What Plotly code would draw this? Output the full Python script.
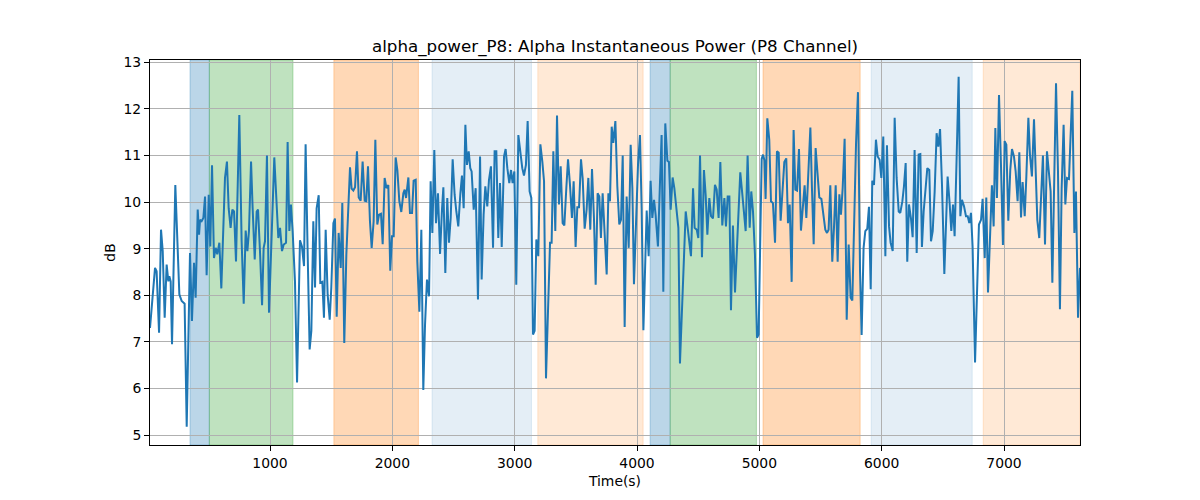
import plotly.graph_objects as go

# ---------------- data ----------------
times = [19, 60, 73, 93, 109, 123, 139, 155, 169, 177, 188, 199, 226, 242, 259, 278, 302, 319, 346, 362,
         379, 392, 409, 420, 428, 441, 455, 469, 482, 499, 512, 526, 542, 556, 569, 586, 602, 632, 648, 662,
         678, 692, 706, 722, 749, 768, 785, 801, 815, 828, 845, 858, 875, 891, 902, 918, 935, 948, 959, 975,
         992, 1035, 1068, 1082, 1098, 1112, 1131, 1144, 1158, 1171, 1185, 1204, 1221, 1245, 1261, 1278, 1291, 1308, 1324, 1338,
         1354, 1368, 1381, 1398, 1411, 1428, 1441, 1455, 1471, 1488, 1501, 1518, 1531, 1545, 1561, 1578, 1591, 1607, 1624, 1654,
         1667, 1681, 1695, 1711, 1725, 1741, 1757, 1774, 1787, 1801, 1817, 1831, 1847, 1861, 1877, 1891, 1907, 1921, 1937, 1952,
         1967, 1983, 1997, 2011, 2027, 2041, 2057, 2073, 2090, 2101, 2112, 2131, 2144, 2161, 2174, 2191, 2204, 2221, 2237, 2253,
         2267, 2283, 2300, 2313, 2327, 2343, 2357, 2373, 2390, 2406, 2417, 2433, 2449, 2463, 2477, 2493, 2509, 2523, 2539, 2556,
         2569, 2583, 2597, 2610, 2624, 2637, 2648, 2665, 2681, 2700, 2717, 2730, 2746, 2760, 2776, 2790, 2806, 2823, 2836, 2850,
         2866, 2880, 2894, 2913, 2926, 2940, 2956, 2970, 2983, 2997, 3013, 3030, 3046, 3062, 3076, 3092, 3106, 3122, 3136, 3150,
         3163, 3177, 3193, 3210, 3226, 3240, 3256, 3275, 3289, 3302, 3316, 3332, 3346, 3362, 3376, 3392, 3406, 3422, 3436, 3452,
         3468, 3482, 3498, 3512, 3526, 3542, 3556, 3572, 3588, 3602, 3618, 3632, 3648, 3662, 3678, 3692, 3705, 3719, 3736, 3752,
         3766, 3779, 3793, 3806, 3823, 3839, 3855, 3869, 3883, 3899, 3915, 3932, 3948, 3962, 3975, 3992, 4008, 4024, 4038, 4052,
         4065, 4079, 4095, 4111, 4125, 4139, 4152, 4171, 4188, 4201, 4215, 4231, 4248, 4261, 4275, 4291, 4305, 4338, 4351, 4368,
         4398, 4414, 4428, 4441, 4458, 4471, 4488, 4501, 4515, 4531, 4547, 4561, 4575, 4591, 4605, 4621, 4637, 4651, 4667, 4681,
         4697, 4714, 4727, 4741, 4755, 4768, 4784, 4801, 4817, 4844, 4861, 4874, 4888, 4904, 4921, 4934, 4948, 4964, 4981, 4994,
         5019, 5030, 5041, 5051, 5065, 5081, 5095, 5111, 5128, 5144, 5158, 5174, 5190, 5204, 5220, 5234, 5248, 5264, 5280, 5294,
         5308, 5324, 5340, 5357, 5370, 5384, 5400, 5417, 5430, 5444, 5460, 5477, 5490, 5507, 5523, 5539, 5553, 5566, 5580, 5596,
         5610, 5624, 5640, 5654, 5667, 5681, 5697, 5714, 5730, 5746, 5760, 5776, 5790, 5806, 5823, 5836, 5852, 5866, 5882, 5896,
         5910, 5923, 5937, 5953, 5967, 5983, 5997, 6013, 6030, 6043, 6060, 6073, 6090, 6106, 6122, 6139, 6152, 6169, 6182, 6196,
         6209, 6223, 6239, 6253, 6269, 6286, 6302, 6316, 6329, 6343, 6359, 6373, 6389, 6403, 6417, 6433, 6449, 6463, 6477, 6493,
         6512, 6526, 6539, 6556, 6569, 6583, 6596, 6613, 6629, 6643, 6656, 6673, 6689, 6703, 6716, 6730, 6743, 6763, 6779, 6795,
         6812, 6825, 6842, 6855, 6869, 6885, 6901, 6915, 6929, 6942, 6959, 6975, 6991, 7005, 7019, 7035, 7051, 7065, 7081, 7095,
         7111, 7125, 7139, 7152, 7169, 7182, 7199, 7212, 7228, 7245, 7258, 7272, 7288, 7302, 7318, 7335, 7351, 7365, 7381, 7395,
         7411, 7425, 7441, 7457, 7471, 7487, 7501, 7515, 7531, 7545, 7558, 7575, 7588, 7605, 7621]

power_db = [7.3, 8.59, 8.52, 7.2, 9.41, 8.95, 7.52, 8.66, 8.3, 8.41, 8.3, 6.95, 10.37, 9.16, 8.02, 7.88, 7.82, 5.18, 8.91, 7.45,
            8.70, 7.95, 9.84, 9.30, 9.62, 9.59, 9.66, 10.12, 8.43, 10.16, 9.05, 10.79, 8.8, 9.02, 8.88, 9.13, 8.15, 10.52, 10.87, 9.87,
            9.45, 9.84, 9.80, 8.73, 11.87, 9.16, 7.82, 9.39, 8.95, 9.38, 10.87, 9.87, 8.77, 9.80, 9.84, 8.95, 7.79, 9.02, 9.16, 11.0,
            7.63, 10.96, 9.23, 9.45, 8.95, 9.09, 9.13, 11.29, 9.38, 9.95, 9.38, 8.3, 6.13, 9.18, 9.05, 8.63, 11.24, 8.88, 6.84, 7.24,
            9.59, 8.17, 9.87, 10.15, 8.27, 8.29, 7.52, 9.41, 8.02, 7.48, 8.17, 9.55, 9.65, 7.54, 9.34, 8.59, 9.98, 6.98, 8.88, 10.75,
            10.29, 10.25, 10.32, 11.09, 10.10, 10.03, 10.87, 10.03, 10.02, 10.77, 9.59, 9.02, 9.59, 11.34, 9.52, 9.73, 9.75, 9.1, 10.52, 10.3,
            10.37, 8.53, 9.27, 9.27, 10.96, 10.69, 10.02, 9.79, 10.19, 10.27, 10.09, 10.53, 9.77, 9.77, 10.46, 10.48, 8.73, 7.65, 9.41, 5.97,
            7.36, 8.34, 7.98, 10.45, 9.34, 11.12, 9.55, 10.19, 8.89, 9.86, 10.32, 8.48, 10.09, 9.13, 9.66, 10.92, 10.16, 9.80, 9.48, 10.19,
            10.57, 9.87, 11.66, 10.80, 11.09, 10.73, 10.66, 9.84, 10.30, 7.91, 10.98, 8.34, 9.73, 10.34, 9.91, 10.48, 10.77, 9.02, 11.09, 11.09,
            9.23, 10.41, 9.04, 10.98, 11.14, 10.73, 10.41, 10.69, 10.41, 10.66, 8.23, 11.44, 11.09, 10.73, 10.57, 10.8, 11.74, 10.23, 10.09, 7.16,
            7.24, 9.2, 8.84, 11.24, 10.87, 10.45, 6.22, 8.17, 9.13, 9.13, 11.09, 9.38, 11.86, 9.95, 10.77, 9.55, 9.50, 10.30, 10.92, 10.37,
            9.66, 10.45, 9.04, 9.89, 9.89, 10.92, 10.50, 9.43, 9.84, 10.52, 9.41, 10.71, 9.66, 8.23, 10.19, 10.12, 9.23, 10.19, 9.30, 8.45,
            10.19, 10.02, 11.62, 11.27, 11.74, 10.34, 9.52, 9.62, 11.0, 7.32, 10.12, 9.02, 11.23, 10.30, 8.24, 9.77, 10.80, 11.44, 9.87, 7.25,
            8.3, 9.82, 8.84, 10.46, 9.66, 10.05, 9.73, 9.05, 10.45, 11.44, 8.08, 11.69, 10.89, 10.86, 9.84, 10.53, 10.30, 9.45, 6.54, 7.70,
            9.80, 9.45, 9.13, 8.84, 10.30, 9.45, 9.41, 9.23, 11.0, 8.82, 10.69, 10.16, 9.30, 10.09, 9.70, 9.65, 10.37, 10.27, 9.66, 10.86,
            9.50, 10.09, 9.48, 10.12, 10.12, 7.68, 9.50, 8.06, 9.02, 10.64, 10.16, 9.80, 9.38, 11.0, 9.45, 10.23, 9.80, 8.88, 7.09, 7.16,
            10.93, 11.02, 10.9, 10.07, 11.80, 11.34, 10.02, 9.98, 9.13, 11.09, 11.06, 9.6, 10.16, 10.86, 10.94, 9.55, 9.95, 8.29, 11.55, 10.27,
            10.25, 11.14, 9.39, 9.98, 10.36, 9.66, 10.8, 11.60, 10.3, 9.1, 11.16, 10.45, 10.1, 10.07, 9.73, 9.41, 9.34, 9.41, 10.36, 8.72,
            9.45, 10.36, 8.72, 10.17, 9.73, 10.30, 11.36, 7.48, 9.09, 7.95, 7.89, 9.80, 11.23, 12.36, 8.52, 7.15, 9.02, 9.38, 9.43, 9.90,
            8.13, 10.46, 10.37, 11.34, 10.98, 10.91, 10.52, 11.41, 8.84, 11.22, 9.48, 9.13, 8.95, 11.81, 10.52, 9.80, 9.77, 10.02, 10.34, 10.84,
            8.72, 9.95, 9.66, 9.25, 11.12, 8.91, 11.02, 11.03, 9.04, 9.80, 10.23, 10.73, 10.69, 9.16, 9.38, 10.23, 11.48, 11.19, 11.57, 10.37,
            8.46, 9.80, 10.55, 9.95, 9.38, 9.95, 9.27, 11.0, 12.69, 9.70, 10.05, 9.91, 9.70, 9.70, 9.55, 9.77, 9.05, 6.56, 8.17, 9.52,
            9.62, 10.07, 8.80, 10.10, 8.06, 9.48, 10.36, 9.48, 11.59, 10.09, 12.30, 10.8, 9.08, 11.31, 11.23, 9.6, 10.69, 11.14, 10.98, 10.66,
            10.02, 11.07, 9.67, 10.43, 9.70, 10.52, 11.81, 11.02, 10.55, 11.78, 10.69, 9.62, 9.23, 10.16, 11.0, 9.09, 11.09, 10.69, 10.23, 8.27,
            10.30, 12.55, 10.66, 7.70, 10.30, 11.66, 9.95, 10.52, 10.50, 11.51, 12.39, 9.34, 10.23, 7.52, 8.59]

# shaded periods (start, end, kind)
span_starts = [346, 504, 1522, 2324, 3189, 4107, 4271, 5030, 5914, 6830]
span_ends = [504, 1188, 2213, 3137, 4050, 4271, 4976, 5824, 6740, 7621]
span_kinds = ["A", "B", "C", "D", "E", "A", "B", "C", "D", "E"]

x_ticks = [1000, 2000, 3000, 4000, 5000, 6000, 7000]
y_ticks = [5, 6, 7, 8, 9, 10, 11, 12, 13]

# ---------------- styles ----------------
kind_style = {
    "A": ("rgba(31,119,180,0.30)", "rgba(31,119,180,0.30)"),
    "B": ("rgba(44,160,44,0.30)", "rgba(44,160,44,0.30)"),
    "C": ("rgba(255,127,14,0.30)", "rgba(255,127,14,0.30)"),
    "D": ("rgba(31,119,180,0.12)", "rgba(31,119,180,0.12)"),
    "E": ("rgba(255,127,14,0.17)", "rgba(255,127,14,0.17)"),
}

FONT = "DejaVu Sans"

fig = go.Figure()
fig.add_trace(go.Scatter(x=times, y=power_db, mode="lines",
                         line=dict(color="#1f77b4", width=2), showlegend=False))

for s, e, k in zip(span_starts, span_ends, span_kinds):
    fill, edge = kind_style[k]
    fig.add_shape(type="rect", xref="x", yref="paper", x0=s, x1=e, y0=0, y1=1,
                  fillcolor=fill, line=dict(color=edge, width=1), layer="below")

axis_common = dict(showline=True, linecolor="black", linewidth=1, mirror=True,
                   ticks="outside", ticklen=5, tickcolor="black", tickwidth=1,
                   showgrid=True, gridcolor="#b0b0b0", gridwidth=1, zeroline=False,
                   tickfont=dict(family=FONT, size=13.9, color="black"))

fig.update_xaxes(range=[19, 7621], tickvals=x_ticks, ticktext=[str(v) for v in x_ticks],
                 title=dict(text="Time(s)", font=dict(family=FONT, size=13.9, color="black"), standoff=6),
                 **axis_common)
fig.update_yaxes(range=[4.79, 13.05], tickvals=y_ticks, ticktext=[str(v) for v in y_ticks],
                 title=dict(text="dB", font=dict(family=FONT, size=13.9, color="black"), standoff=4),
                 **axis_common)

fig.update_layout(
    width=1200, height=500,
    margin=dict(l=150, r=120, t=60, b=55),
    paper_bgcolor="white", plot_bgcolor="white",
    title=dict(text="alpha_power_P8: Alpha Instantaneous Power (P8 Channel)",
               font=dict(family=FONT, size=16.7, color="black"),
               x=615 / 1200, xanchor="center",
               y=1 - 46 / 500, yanchor="middle"),
    font=dict(family=FONT, color="black"),
)

fig.write_html("out.html")
